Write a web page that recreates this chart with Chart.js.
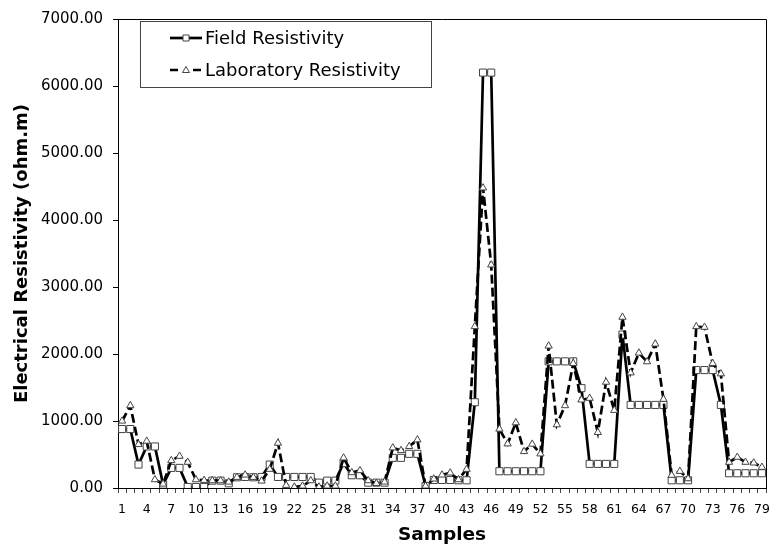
<!DOCTYPE html>
<html><head><meta charset="utf-8">
<script src="https://cdn.jsdelivr.net/npm/chart.js@4.4.1/dist/chart.umd.min.js"></script>
<style>html,body{margin:0;padding:0;background:#fff;}canvas{display:block;}</style>
</head><body>
<canvas id="c" width="779" height="547"></canvas>
<script>
const samples = [1,2,3,4,5,6,7,8,9,10,11,12,13,14,15,16,17,18,19,20,21,22,23,24,25,26,27,28,29,30,31,32,33,34,35,36,37,38,39,40,41,42,43,44,45,46,47,48,49,50,51,52,53,54,55,56,57,58,59,60,61,62,63,64,65,66,67,68,69,70,71,72,73,74,75,76,77,78,79];
const fieldResistivity = [880,880,350,620,620,50,300,300,15,15,15,110,110,70,160,165,160,165,350,165,165,165,165,165,80,110,110,370,190,190,80,80,80,450,450,510,510,30,120,120,120,115,115,1280,6200,6200,250,250,250,250,250,250,1890,1890,1890,1890,1490,360,360,360,360,2290,1240,1240,1240,1240,1240,115,115,115,1760,1760,1760,1240,220,220,220,220,220];
const labResistivity = [1000,1230,650,700,125,60,410,475,385,125,115,110,110,90,160,195,160,105,280,670,40,15,30,110,15,30,30,450,230,260,110,70,90,600,560,620,720,30,135,195,225,125,280,2410,4480,3330,880,660,975,545,655,510,2120,945,1230,1860,1315,1340,830,1580,1160,2550,1720,2015,1885,2150,1325,190,250,140,2410,2400,1860,1705,385,460,385,375,310];
const xTickLabels = ['1','4','7','10','13','16','19','22','25','28','31','34','37','40','43','46','49','52','55','58','61','64','67','70','73','76','79'];
const yTickValues = [0,1000,2000,3000,4000,5000,6000,7000];
const seriesNames = ['Field Resistivity','Laboratory Resistivity'];

Chart.defaults.font.family = "'DejaVu Sans', sans-serif";
Chart.defaults.color = '#000';

const boxPlugin = {
  id: 'boxAndLegend',
  afterDraw(chart) {
    const {ctx, chartArea: a} = chart;
    ctx.save();
    ctx.strokeStyle = '#000';
    ctx.lineWidth = 1;
    ctx.beginPath();
    ctx.moveTo(a.left, a.top + 0.5);
    ctx.lineTo(a.right + 0.5, a.top + 0.5);
    ctx.lineTo(a.right + 0.5, a.bottom);
    ctx.stroke();
    // legend
    ctx.fillStyle = '#fff';
    ctx.fillRect(140.5, 21.5, 291, 66);
    ctx.strokeStyle = '#444';
    ctx.strokeRect(140.5, 21.5, 291, 66);
    const rows = [38, 70];
    chart.data.datasets.forEach((ds, i) => {
      const y = rows[i];
      ctx.save();
      ctx.strokeStyle = ds.borderColor;
      ctx.lineWidth = ds.borderWidth;
      ctx.setLineDash(i === 0 ? [] : [8, 15]);
      ctx.beginPath();
      ctx.moveTo(170, y);
      ctx.lineTo(202, y);
      ctx.stroke();
      ctx.restore();
      ctx.save();
      ctx.fillStyle = '#fff';
      ctx.strokeStyle = '#444';
      ctx.lineWidth = 1;
      ctx.beginPath();
      if (ds.pointStyle === 'rect') {
        ctx.rect(183, y - 3, 6, 6);
      } else {
        ctx.moveTo(186, y - 3.5); ctx.lineTo(189.5, y + 2.5); ctx.lineTo(182.5, y + 2.5); ctx.closePath();
      }
      ctx.fill(); ctx.stroke();
      ctx.restore();
      ctx.fillStyle = '#000';
      ctx.font = "18px 'DejaVu Sans'";
      ctx.textBaseline = 'middle';
      ctx.textAlign = 'left';
      ctx.fillText(ds.label, 205, y + 1);
    });
    ctx.restore();
  }
};

new Chart(document.getElementById('c'), {
  type: 'line',
  data: {
    labels: samples,
    datasets: [
      {
        label: seriesNames[0],
        data: fieldResistivity,
        borderColor: '#000',
        borderWidth: 2.7,
        pointStyle: 'rect',
        pointRadius: 5,
        pointBackgroundColor: '#fff',
        pointBorderColor: '#444',
        pointBorderWidth: 1,
        tension: 0,
        order: 2
      },
      {
        label: seriesNames[1],
        data: labResistivity,
        borderColor: '#000',
        borderWidth: 2.7,
        borderDash: [9, 4],
        pointStyle: 'triangle',
        pointRadius: 4.2,
        pointBackgroundColor: '#fff',
        pointBorderColor: '#444',
        pointBorderWidth: 1,
        tension: 0,
        order: 1
      }
    ]
  },
  options: {
    responsive: false,
    animation: false,
    devicePixelRatio: 1,
    layout: {padding: {top: 14, right: 13, left: 0, bottom: 0}},
    plugins: {legend: {display: false}, tooltip: {enabled: false}},
    scales: {
      x: {
        type: 'category',
        offset: true,
        grid: {display: true, offset: true, drawOnChartArea: false, drawTicks: true, tickLength: 5, color: '#444', lineWidth: 1},
        border: {display: true, color: '#000', width: 1},
        ticks: {
          autoSkip: false, maxRotation: 0, minRotation: 0, padding: 9,
          font: {size: 12.5}, color: '#000',
          callback: function(v, i) { const l = String(this.getLabelForValue(v)); return xTickLabels.includes(l) ? l : ''; }
        },
        title: {display: true, text: 'Samples', font: {size: 18.5, weight: 'bold'}, color: '#000', padding: {top: 0, bottom: 1}},
        afterFit: s => { s.height = 59; }
      },
      y: {
        min: yTickValues[0], max: yTickValues[yTickValues.length - 1],
        afterBuildTicks: s => { s.ticks = yTickValues.map(v => ({value: v})); },
        grid: {display: true, drawOnChartArea: false, drawTicks: true, tickLength: 5, color: '#000', lineWidth: 1},
        border: {display: true, color: '#000', width: 1},
        ticks: {padding: 10, font: {size: 15}, color: '#000', callback: v => Number(v).toFixed(2)},
        title: {display: true, text: 'Electrical Resistivity (ohm.m)', font: {size: 18, weight: 'bold'}, color: '#000', padding: {top: 12, bottom: 0}},
        afterFit: s => { s.width = 118; }
      }
    }
  },
  plugins: [boxPlugin]
});
</script>
</body></html>
